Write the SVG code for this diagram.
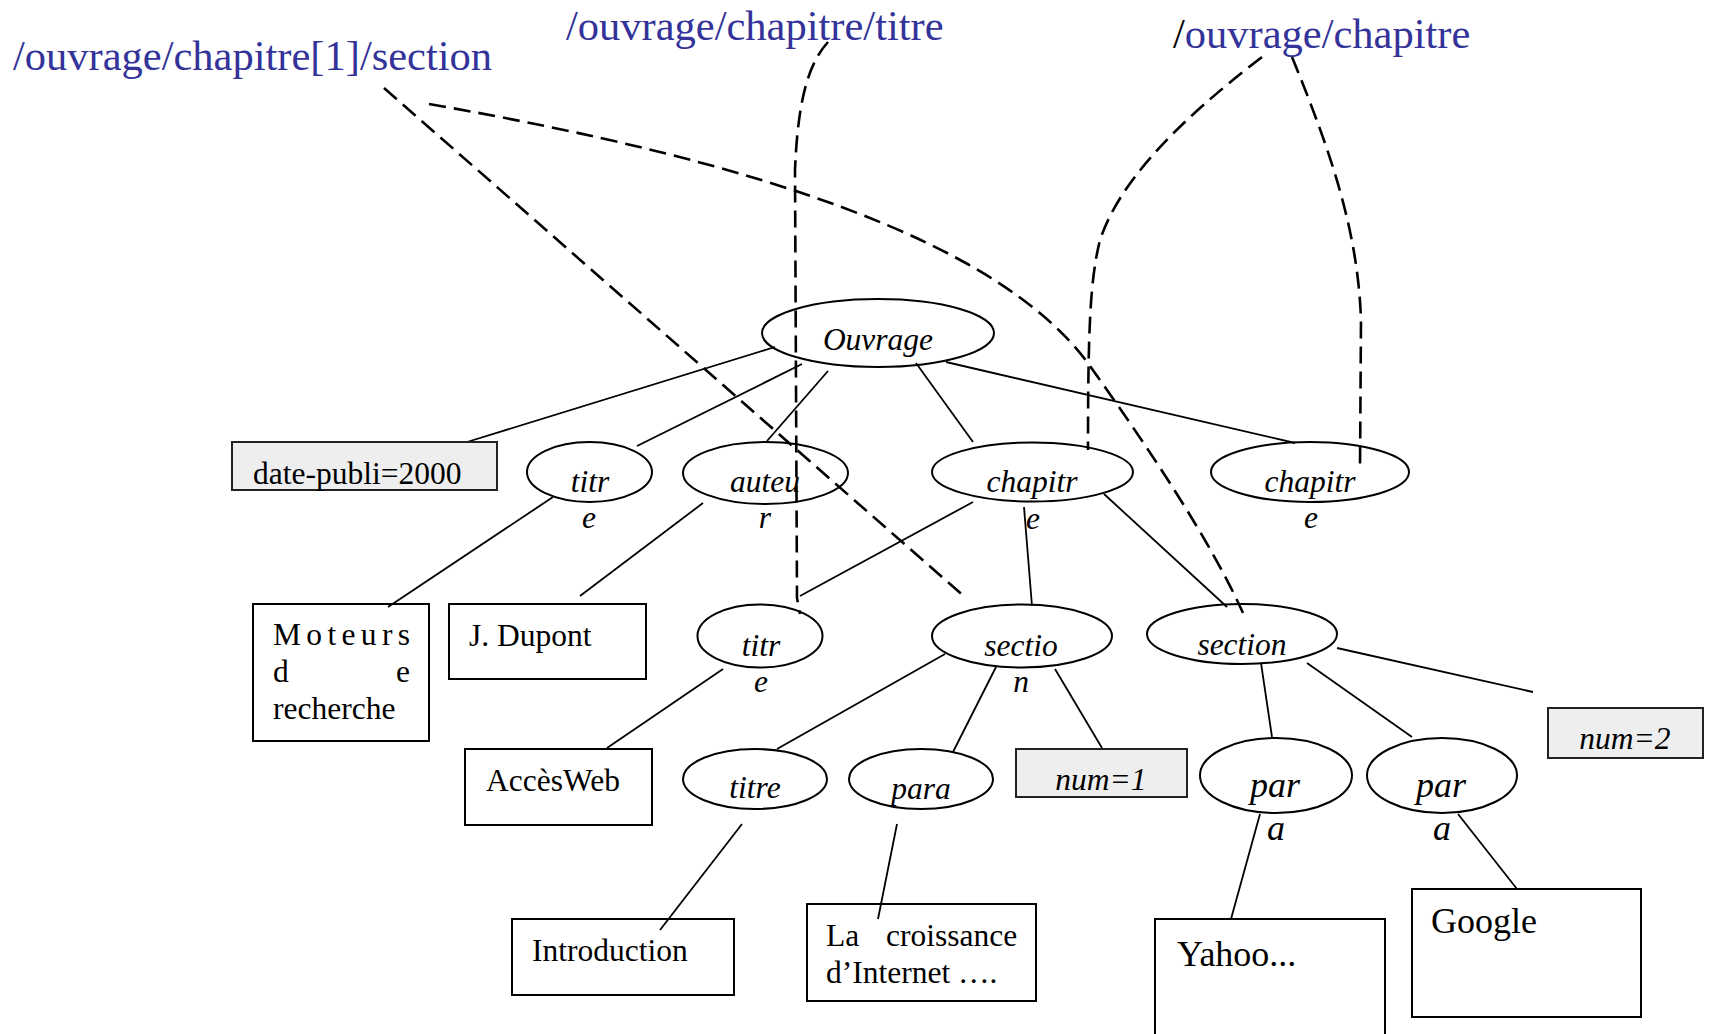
<svg xmlns="http://www.w3.org/2000/svg" width="1710" height="1034" viewBox="0 0 1710 1034">
<style>
text { font-family: "Liberation Serif", "Times New Roman", serif; fill:#000; }
.it { font-style: italic; font-size: 31.5px; }
.big { font-style: italic; font-size: 36px; }
.rg { font-size: 31.5px; }
.rg2 { font-size: 36px; }
.xp { font-size: 42.5px; fill: #333399; }
.edge { stroke:#000; stroke-width:1.8; fill:none; }
.dash { stroke:#000; stroke-width:2.6; stroke-dasharray:17 8; fill:none; }
.el { fill:none; stroke:#000; stroke-width:2; }
.box { fill:none; stroke:#000; stroke-width:2; }
.attr { fill:#eeeeee; stroke:#222; stroke-width:2; }
</style>
<rect width="1710" height="1034" fill="#fff"/>

<g id="xpath-labels">
  <text id="xp1" class="xp" x="13" y="70">/ouvrage/chapitre[1]/section</text>
  <text id="xp2" class="xp" x="566" y="40">/ouvrage/chapitre/titre</text>
  <text id="xp3" class="xp" x="1173" y="48"><tspan fill="#000">/</tspan>ouvrage/chapitre</text>
</g>

<g id="connectors">
  <line class="edge" x1="467" y1="442" x2="775" y2="347"/>
  <line class="edge" x1="637" y1="446" x2="802" y2="364"/>
  <line class="edge" x1="828" y1="371" x2="767" y2="441"/>
  <line class="edge" x1="916" y1="363" x2="973" y2="442"/>
  <line class="edge" x1="946" y1="362" x2="1295" y2="443"/>
  <line class="edge" x1="553" y1="497" x2="388" y2="607"/>
  <line class="edge" x1="703" y1="503" x2="580" y2="596"/>
  <line class="edge" x1="973" y1="502" x2="800" y2="596"/>
  <line class="edge" x1="1024" y1="507" x2="1032" y2="606"/>
  <line class="edge" x1="1104" y1="494" x2="1227" y2="607"/>
  <line class="edge" x1="723" y1="669" x2="607" y2="748"/>
  <line class="edge" x1="945" y1="654" x2="777" y2="749"/>
  <line class="edge" x1="996" y1="667" x2="953" y2="752"/>
  <line class="edge" x1="1055" y1="669" x2="1102" y2="748"/>
  <line class="edge" x1="1337" y1="648" x2="1533" y2="692"/>
  <line class="edge" x1="1261" y1="663" x2="1272" y2="737"/>
  <line class="edge" x1="1307" y1="663" x2="1412" y2="737"/>
  <line class="edge" x1="742" y1="824" x2="660" y2="930"/>
  <line class="edge" x1="897" y1="824" x2="878" y2="919"/>
  <line class="edge" x1="1260" y1="814" x2="1231" y2="919"/>
  <line class="edge" x1="1458" y1="814" x2="1517" y2="889"/>

  <line class="dash" x1="384" y1="88" x2="966" y2="598"/>
  <path class="dash" d="M429,104 C750,160 1000,240 1090,366 C1150,450 1210,540 1243,613"/>
  <path class="dash" d="M828,42 C810,62 798,95 795,170 L797,598 L800,614"/>
  <path class="dash" d="M1262,57 C1180,120 1120,180 1100,240 C1090,280 1088,330 1088,450"/>
  <path class="dash" d="M1292,57 C1330,150 1358,230 1361,320 L1360,468"/>
</g>

<g id="n-ouvrage"><ellipse class="el" cx="878" cy="333" rx="116" ry="34"/><text class="it" x="878" y="350" text-anchor="middle">Ouvrage</text></g>
<g id="n-date"><rect class="attr" x="232" y="442" width="265" height="48"/><text class="rg" x="253" y="484">date-publi=2000</text></g>
<g id="n-titre1"><ellipse class="el" cx="589.5" cy="472" rx="62.5" ry="30"/><text class="it" x="590" y="492" text-anchor="middle">titr</text><text class="it" x="589" y="528" text-anchor="middle">e</text></g>
<g id="n-auteur"><ellipse class="el" cx="765.5" cy="473" rx="82.5" ry="31"/><text class="it" x="765" y="492" text-anchor="middle">auteu</text><text class="it" x="765" y="528" text-anchor="middle">r</text></g>
<g id="n-chapitre1"><ellipse class="el" cx="1032.5" cy="472" rx="100.5" ry="29.5"/><text class="it" x="1032" y="492" text-anchor="middle">chapitr</text><text class="it" x="1033" y="529" text-anchor="middle">e</text></g>
<g id="n-chapitre2"><ellipse class="el" cx="1310" cy="472" rx="99" ry="30"/><text class="it" x="1310" y="492" text-anchor="middle">chapitr</text><text class="it" x="1311" y="528" text-anchor="middle">e</text></g>

<g id="n-moteurs"><rect class="box" x="253" y="604" width="176" height="137"/>
  <text class="rg" x="273" y="645" textLength="137" lengthAdjust="spacing">Moteurs</text>
  <text class="rg" x="273" y="682" textLength="137" lengthAdjust="spacing">d e</text>
  <text class="rg" x="273" y="719">recherche</text></g>
<g id="n-dupont"><rect class="box" x="449" y="604" width="197" height="75"/><text class="rg" x="469" y="646">J. Dupont</text></g>
<g id="n-titre2"><ellipse class="el" cx="760" cy="636" rx="62.5" ry="31.5"/><text class="it" x="761" y="656" text-anchor="middle">titr</text><text class="it" x="761" y="692" text-anchor="middle">e</text></g>
<g id="n-section1"><ellipse class="el" cx="1022" cy="636" rx="90" ry="31.5"/><text class="it" x="1021" y="656" text-anchor="middle">sectio</text><text class="it" x="1021" y="692" text-anchor="middle">n</text></g>
<g id="n-section2"><ellipse class="el" cx="1242" cy="634" rx="95" ry="30"/><text class="it" x="1242" y="655" text-anchor="middle">section</text></g>

<g id="n-accesweb"><rect class="box" x="465" y="749" width="187" height="76"/><text class="rg" x="486" y="791">AccèsWeb</text></g>
<g id="n-titre3"><ellipse class="el" cx="755" cy="779" rx="72" ry="30"/><text class="it" x="755" y="798" text-anchor="middle">titre</text></g>
<g id="n-para"><ellipse class="el" cx="921" cy="779" rx="72" ry="30"/><text class="it" x="921" y="799" text-anchor="middle">para</text></g>
<g id="n-num1"><rect class="attr" x="1016" y="749" width="171" height="48"/><text class="it" x="1101" y="790" text-anchor="middle">num=1</text></g>
<g id="n-num2"><rect class="attr" x="1548" y="708" width="155" height="50"/><text class="it" x="1625" y="749" text-anchor="middle">num=2</text></g>
<g id="n-para1"><ellipse class="el" cx="1276" cy="775.5" rx="76" ry="37.5"/><text class="big" x="1275" y="797" text-anchor="middle">par</text><text class="big" x="1276" y="840" text-anchor="middle">a</text></g>
<g id="n-para2"><ellipse class="el" cx="1442" cy="775.5" rx="75" ry="37.5"/><text class="big" x="1441" y="797" text-anchor="middle">par</text><text class="big" x="1442" y="840" text-anchor="middle">a</text></g>

<g id="n-intro"><rect class="box" x="512" y="919" width="222" height="76"/><text class="rg" x="532" y="961">Introduction</text></g>
<g id="n-croissance"><rect class="box" x="807" y="904" width="229" height="97"/>
  <text class="rg" y="946"><tspan x="826">La </tspan><tspan x="886">croissance</tspan></text>
  <text class="rg" x="826" y="983">d’Internet ….</text></g>
<g id="n-yahoo"><rect class="box" x="1155" y="919" width="230" height="140"/><text class="rg2" x="1177" y="966">Yahoo...</text></g>
<g id="n-google"><rect class="box" x="1412" y="889" width="229" height="128"/><text class="rg2" x="1431" y="933">Google</text></g>
</svg>
